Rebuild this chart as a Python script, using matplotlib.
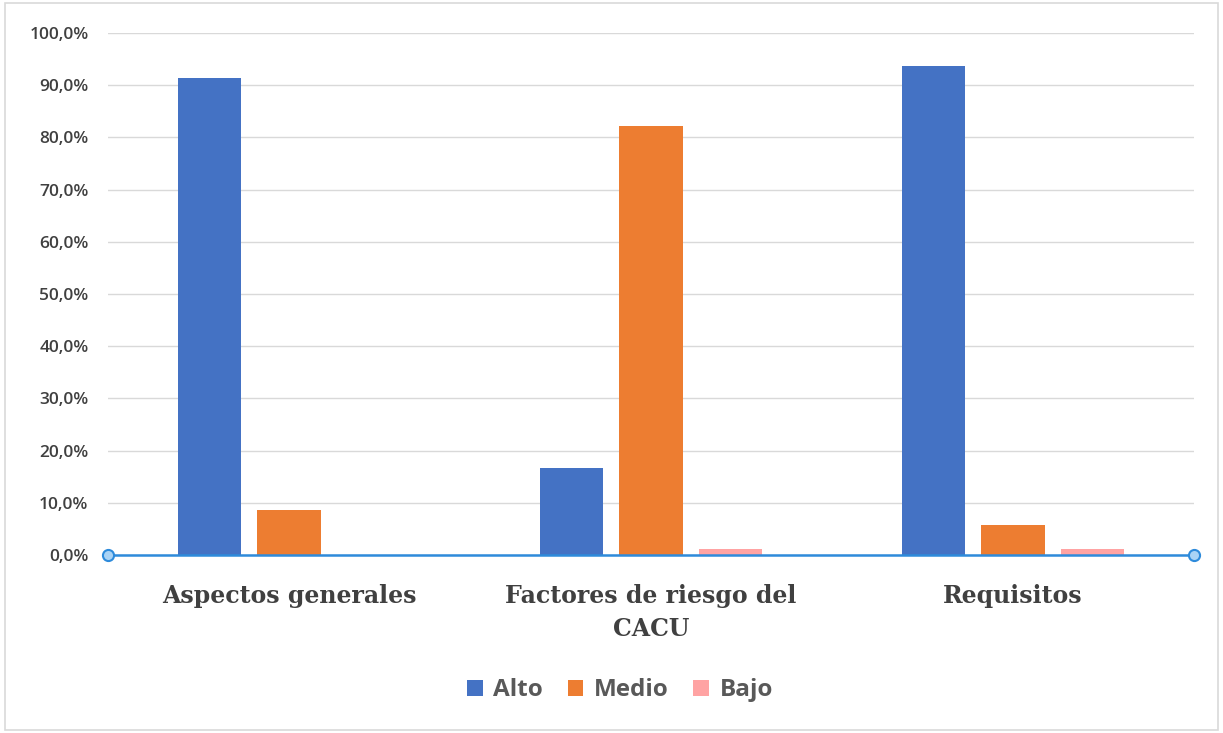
import numpy as np
import matplotlib.pyplot as plt
from matplotlib.patches import Rectangle
from matplotlib.ticker import FuncFormatter

categorias = ["Aspectos generales", "Factores de riesgo del\nCACU", "Requisitos"]
alto = [91.4, 16.7, 93.7]
medio = [8.6, 82.2, 5.7]
bajo = [0.0, 1.1, 1.1]
series = ["Alto", "Medio", "Bajo"]
colores = ["#4472C4", "#ED7D31", "#FFA3A3"]

fig = plt.figure(figsize=(12.23, 7.33), dpi=100)
fig.patches.append(Rectangle((0.004, 0.004), 0.992, 0.992, transform=fig.transFigure,
                             fill=False, edgecolor="#D9D9D9", linewidth=1.2))
ax = fig.add_axes([0.0883, 0.2428, 0.888, 0.7122])

x = np.arange(len(categorias))
w = 0.175
off = 0.22
for i, (vals, nombre) in enumerate(zip([alto, medio, bajo], series)):
    ax.bar(x + (i - 1) * off, vals, w, color=colores[i], label=nombre, zorder=3)

ax.set_xlim(-0.5, 2.5)
ax.set_ylim(0, 100)
ax.set_yticks(np.arange(0, 101, 10))
ax.yaxis.set_major_formatter(FuncFormatter(lambda v, p: f"{v:.1f}%".replace(".", ",")))
ax.grid(axis="y", color="#D9D9D9", linewidth=1.0, zorder=0)
for s in ["top", "right", "left", "bottom"]:
    ax.spines[s].set_visible(False)
ax.tick_params(axis="both", length=0)
ax.tick_params(axis="y", pad=14)
for t in ax.get_yticklabels():
    t.set_fontfamily("Open Sans")
    t.set_fontweight("semibold")
    t.set_fontsize(12.5)
    t.set_color("#404040")

ax.set_xticks(x)
ax.set_xticklabels(categorias, fontfamily="DejaVu Serif", fontweight="bold",
                   fontsize=17, color="#404040", linespacing=1.45)
ax.tick_params(axis="x", pad=21)

# axis line with end circles
ax.plot([-0.5, 2.5], [0, 0], color="#2E8BDB", linewidth=1.8, zorder=4, clip_on=False)
ax.plot([-0.5, 2.5], [0, 0], linestyle="none", marker="o", markersize=8,
        markerfacecolor="#A9D3F5", markeredgecolor="#2E8BDB", markeredgewidth=1.5,
        zorder=5, clip_on=False)

leg = fig.legend(loc="center", bbox_to_anchor=(0.507, 0.058), ncol=3, frameon=False,
                 prop={"family": "Open Sans", "weight": "bold", "size": 17.5},
                 handlelength=0.65, handleheight=0.65, handletextpad=0.45, columnspacing=1.0)
for t in leg.get_texts():
    t.set_color("#595959")

fig.savefig("out.png", dpi=100)
